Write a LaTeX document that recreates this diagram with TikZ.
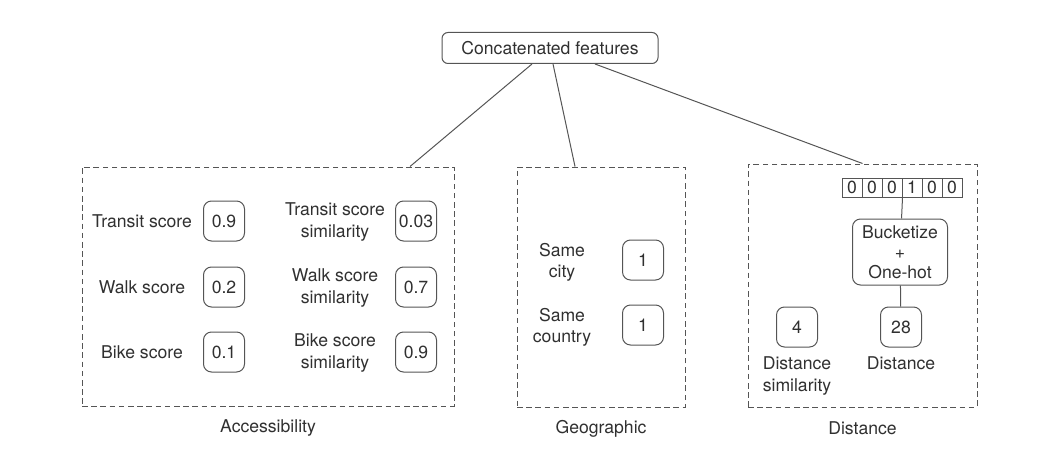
\documentclass[tikz,border=0pt]{standalone}
\usepackage{fontspec}
\setmainfont{TeX Gyre Heros}
\usetikzlibrary{positioning}
\definecolor{linegray}{HTML}{555555}
\definecolor{textgray}{HTML}{303030}
\tikzset{
	val/.style={draw=linegray, rounded corners=4pt, minimum width=20.5pt, minimum height=20pt, inner sep=0pt},
	grp/.style={draw=linegray, dash pattern=on 2.8pt off 1.8pt, inner sep=0pt},
	cell/.style={draw=linegray, minimum width=10pt, minimum height=9.5pt, inner sep=0pt},
	lbl/.style={align=center, inner sep=1pt},
}
\begin{document}
\begin{tikzpicture}[x=0.5pt,y=-0.5pt,line width=0.5pt,text=textgray,
	font=\fontsize{8.8}{10.6}\selectfont]
	\useasboundingbox (0,0) rectangle (1042,449);
	% top node
	\node[draw=linegray, rounded corners=3pt, minimum width=108pt, minimum height=15.5pt, inner sep=0pt] (top) at (550,48) {Concatenated features};
	% groups
	\node[grp, minimum width=186pt, minimum height=119.5pt] (acc) at (268,286.5) {};
	\node[grp, minimum width=84pt, minimum height=120pt] (geo) at (601,287) {};
	\node[grp, minimum width=114.5pt, minimum height=121.5pt] (dist) at (862.5,285.5) {};
	\node[below=3pt of acc] {Accessibility};
	\node[below=3pt of geo] {Geographic};
	\node[below=3.7pt of dist] {Distance};
	\draw[linegray] ([xshift=-9pt]top.south) -- ([xshift=71pt]acc.north);
	\draw[linegray] ([xshift=1.5pt]top.south) -- ([xshift=-13pt]geo.north);
	\draw[linegray] ([xshift=22.5pt]top.south) -- (dist.north);
	% accessibility
	\node[val] (tr) at (224,221) {0.9};
	\node[val] (wa) at (224,287) {0.2};
	\node[val] (bi) at (224,352) {0.1};
	\node[val] (trs) at (416,221) {0.03};
	\node[val] (was) at (416,287) {0.7};
	\node[val] (bis) at (416,352) {0.9};
	\node[lbl] (trl) at (142,221) {Transit score};
	\node[lbl] (wal) at (142,287) {Walk score};
	\node[lbl] (bil) at (142,352) {Bike score};
	\node[lbl] (trsl) at (335,222) {Transit score\\similarity};
	\node[lbl] (wasl) at (335,288) {Walk score\\similarity};
	\node[lbl] (bisl) at (335,353) {Bike score\\similarity};
	% geographic
	\node[val] (city) at (643,260) {1};
	\node[val] (ctry) at (643,325) {1};
	\node[lbl] (cityl) at (562,262) {Same\\city};
	\node[lbl] (ctryl) at (562,327) {Same\\country};
	% distance
	\foreach \b [count=\i] in {0,0,0,1,0,0}
		\node[cell] (c\i) at (832+20*\i,187.5) {\b};
	\node[draw=linegray, rounded corners=4pt, minimum width=47.5pt, minimum height=33pt, inner sep=0pt, align=center,
		font=\fontsize{8.8}{10}\selectfont] (bucket) at (900,252) {Bucketize\\+\\One-hot};
	\node[val] (dv) at (901,327) {28};
	\node[val] (dsv) at (797,327) {4};
	\node[lbl, below=3.5pt of dv] (dvl) {Distance};
	\node[lbl, below=3.5pt of dsv] (dsvl) {Distance\\similarity};
	\draw[linegray] (c3.south east) -- (bucket);
	\draw[linegray] (bucket) -- (dv);
\end{tikzpicture}
\end{document}
